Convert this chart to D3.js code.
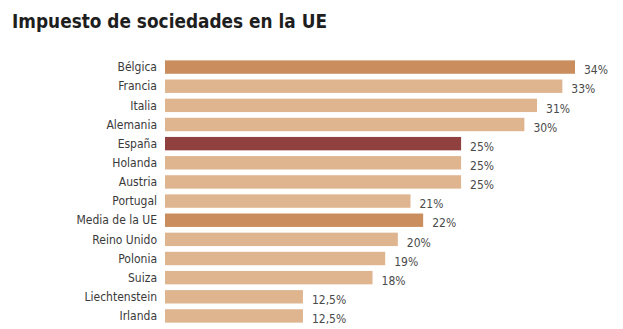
<!DOCTYPE html>
<html><head><meta charset="utf-8">
<script src="https://cdn.jsdelivr.net/npm/d3@7"></script>
<style>
html,body{margin:0;padding:0;background:#fff;}
svg{display:block;}
</style></head>
<body>
<script>
const countries = ["Bélgica","Francia","Italia","Alemania","España","Holanda","Austria","Portugal","Media de la UE","Reino Unido","Polonia","Suiza","Liechtenstein","Irlanda"];
const rates = [34,33,31,30,25,25,25,21,22,20,19,18,12.5,12.5];
const rateLabels = ["34%","33%","31%","30%","25%","25%","25%","21%","22%","20%","19%","18%","12,5%","12,5%"];
const kinds = ["dark","light","light","light","spain","light","light","light","dark","light","light","light","light","light"];

const W = 623, H = 329;
const colors = {dark:"#c98d5e", light:"#dfb590", spain:"#8f403f"};

const svg = d3.select("body").append("svg").attr("width", W).attr("height", H);

svg.append("text").attr("x", 12).attr("y", 28)
  .attr("font-family", "'DejaVu Sans Condensed','DejaVu Sans',sans-serif")
  .attr("font-weight", "bold").attr("font-size", 20).attr("fill", "#1e1e1e")
  .attr("textLength", 315).attr("lengthAdjust","spacingAndGlyphs")
  .text("Impuesto de sociedades en la UE");

const x = d3.scaleLinear().domain([1.6, 34]).range([165, 575]);
const y = d3.scaleBand().domain(countries).range([57.5, 325.5]).paddingInner(0.3).paddingOuter(0.15);

const g = svg.append("g");
g.selectAll("rect").data(countries).join("rect")
  .attr("x", x(1.6)).attr("y", d => y(d))
  .attr("width", (d,i) => x(rates[i]) - x(1.6))
  .attr("height", y.bandwidth())
  .attr("fill", (d,i) => colors[kinds[i]]);

g.selectAll("text.cat").data(countries).join("text").attr("class","cat")
  .attr("x", 157).attr("y", d => y(d) + y.bandwidth()/2)
  .attr("dy", "0.35em").attr("text-anchor","end")
  .attr("font-family", "'DejaVu Sans Condensed','Liberation Sans Narrow',sans-serif")
  .attr("font-size", 12).attr("fill", "#3a3a3a")
  .text(d => d);

g.selectAll("text.val").data(countries).join("text").attr("class","val")
  .attr("x", (d,i) => x(rates[i]) + 9).attr("y", d => y(d) + y.bandwidth()/2 + 3)
  .attr("dy", "0.35em")
  .attr("font-family", "'DejaVu Sans Condensed','Liberation Sans Narrow',sans-serif")
  .attr("font-size", 12).attr("fill", "#4a4a4a")
  .text((d,i) => rateLabels[i]);
</script>
</body></html>
